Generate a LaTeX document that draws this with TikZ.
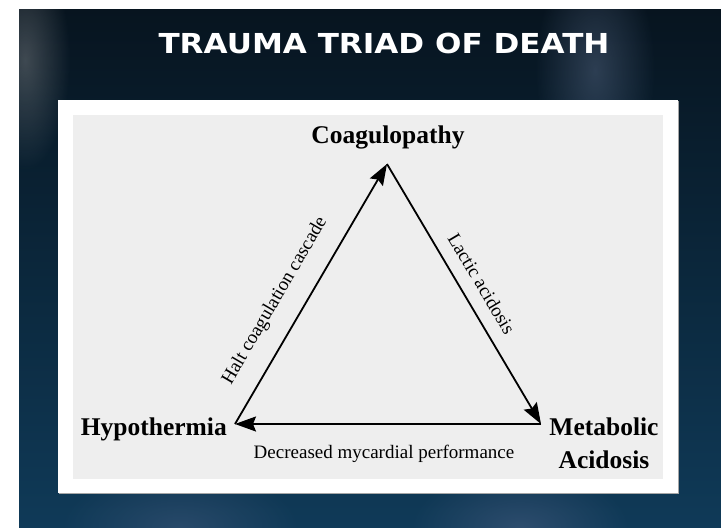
\documentclass[tikz,border=0pt]{standalone}
\usepackage{fontspec}
\setmainfont{Liberation Serif}
\newfontfamily\titlefont{DejaVu Sans}
\usetikzlibrary{arrows.meta,fadings}
\definecolor{bgtop}{HTML}{07141F}
\definecolor{bgbot}{HTML}{0F3A58}
\definecolor{panelgray}{HTML}{EEEEEE}
\tikzfading[name=softglow, inner color=transparent!0, outer color=transparent!100]
\tikzset{
  vlabel/.style={font=\bfseries\fontsize{25.5}{33}\selectfont, inner sep=0pt, align=center},
  elabel/.style={font=\fontsize{19}{22}\selectfont, inner sep=0pt},
  conn/.style={line width=1.8pt, -{Stealth[length=21pt,width=15pt,inset=3pt]}},
  titletxt/.style={font=\titlefont\bfseries\fontsize{27.5}{30}\selectfont, inner sep=0pt, anchor=base, text=white}
}
\begin{document}
\begin{tikzpicture}[x=1pt,y=-1pt]
\useasboundingbox (0,0) rectangle (721,528);
\fill[white] (0,0) rectangle (721,528);
% background
\shade[top color=bgtop, bottom color=bgbot] (19,9) rectangle (721,528);
\begin{scope}
\clip (19,9) rectangle (721,528);
\fill[gray!70, opacity=0.35, path fading=softglow] (25,60) ellipse (45 and 110);
\fill[cyan!50!blue!40!gray, opacity=0.35, path fading=softglow] (595,70) ellipse (60 and 120);
\fill[cyan!30!blue!40!gray, opacity=0.25, path fading=softglow] (180,528) ellipse (120 and 60);
\fill[cyan!30!blue!40!gray, opacity=0.30, path fading=softglow] (520,528) ellipse (110 and 60);
\end{scope}
% title
\node[titletxt] (title) at (384,53) {\scalebox{1.13}[1]{TRAUMA TRIAD OF DEATH}};
% panel
\fill[gray!70] (59,101) rectangle (679,494);
\fill[white] (58,100) rectangle (678,493);
\fill[panelgray] (73,115) rectangle (663,479);
% vertices
\coordinate (vC) at (387,164);
\coordinate (vH) at (235,424);
\coordinate (vM) at (541,424);
% labels
\node[vlabel, anchor=base] (coag) at (388,143) {Coagulopathy};
\node[vlabel, anchor=base east] (hypo) at (227,435) {Hypothermia};
\node[vlabel, anchor=base] (meta) at (604,468) {Metabolic\\Acidosis};
% connectors
\draw[conn] (vH) -- node[elabel, sloped, above=18pt, pos=0.42] (l1) {Halt coagulation cascade} (vC);
\draw[conn] (vC) -- node[elabel, sloped, above=13pt] (l2) {Lactic acidosis} (vM);
\draw[conn] (vM) -- (vH);
\node[elabel, anchor=base] (l3) at (384,458) {Decreased mycardial performance};
\end{tikzpicture}
\end{document}
